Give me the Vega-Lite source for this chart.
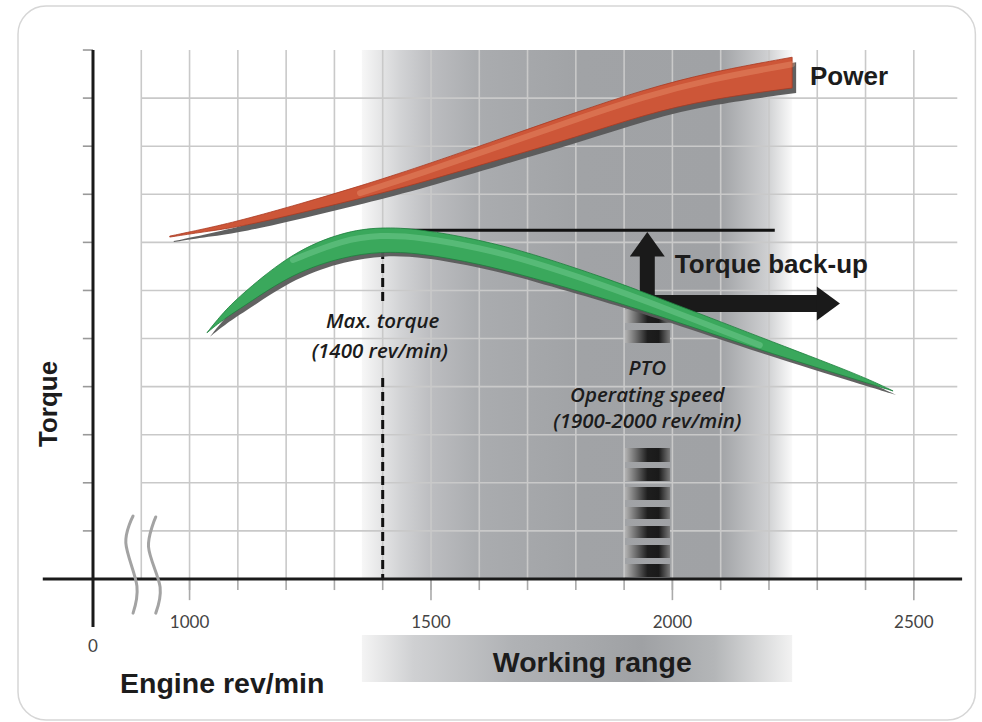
{
  "$schema": "https://vega.github.io/schema/vega-lite/v6.json",
  "width": 982,
  "height": 722,
  "autosize": "none",
  "padding": 0,
  "background": "white",
  "config": {"view": {"stroke": null}},
  "datasets": {
    "one": [{}],
    "power": [
      {"rpm": 959, "top": 7.13, "bot": 7.11},
      {"rpm": 1030, "top": 7.28, "bot": 7.22},
      {"rpm": 1104, "top": 7.45, "bot": 7.32},
      {"rpm": 1229, "top": 7.80, "bot": 7.61},
      {"rpm": 1353, "top": 8.17, "bot": 7.91},
      {"rpm": 1477, "top": 8.57, "bot": 8.23},
      {"rpm": 1643, "top": 9.15, "bot": 8.73},
      {"rpm": 1802, "top": 9.71, "bot": 9.19},
      {"rpm": 1939, "top": 10.17, "bot": 9.65},
      {"rpm": 2078, "top": 10.54, "bot": 9.98},
      {"rpm": 2248, "top": 10.85, "bot": 10.21}
    ],
    "torque": [
      {"rpm": 1036, "top": 5.12, "bot": 5.12},
      {"rpm": 1070, "top": 5.55, "bot": 5.40},
      {"rpm": 1111, "top": 5.95, "bot": 5.66},
      {"rpm": 1214, "top": 6.80, "bot": 6.36},
      {"rpm": 1318, "top": 7.22, "bot": 6.70},
      {"rpm": 1395, "top": 7.32, "bot": 6.81},
      {"rpm": 1477, "top": 7.28, "bot": 6.78},
      {"rpm": 1602, "top": 7.05, "bot": 6.55},
      {"rpm": 1705, "top": 6.78, "bot": 6.28},
      {"rpm": 1850, "top": 6.30, "bot": 5.86},
      {"rpm": 1974, "top": 5.84, "bot": 5.47},
      {"rpm": 2181, "top": 5.03, "bot": 4.76},
      {"rpm": 2389, "top": 4.24, "bot": 4.12},
      {"rpm": 2457, "top": 3.91, "bot": 3.91}
    ],
    "vgrid": [
      {"rpm": 900}, {"rpm": 1000}, {"rpm": 1100}, {"rpm": 1200}, {"rpm": 1300}, {"rpm": 1400},
      {"rpm": 1500}, {"rpm": 1600}, {"rpm": 1700}, {"rpm": 1800}, {"rpm": 1900}, {"rpm": 2000},
      {"rpm": 2100}, {"rpm": 2200}, {"rpm": 2300}, {"rpm": 2400}, {"rpm": 2500}
    ],
    "xticks": [
      {"rpm": 1000}, {"rpm": 1100}, {"rpm": 1200}, {"rpm": 1300}, {"rpm": 1400},
      {"rpm": 1500}, {"rpm": 1600}, {"rpm": 1700}, {"rpm": 1800}, {"rpm": 1900}, {"rpm": 2000},
      {"rpm": 2100}, {"rpm": 2200}, {"rpm": 2300}, {"rpm": 2400}, {"rpm": 2500}
    ],
    "majors": [{"rpm": 1000, "label": "1000"}, {"rpm": 1500, "label": "1500"}, {"rpm": 2000, "label": "2000"}, {"rpm": 2500, "label": "2500"}],
    "hgrid": [{"v": 1}, {"v": 2}, {"v": 3}, {"v": 4}, {"v": 5}, {"v": 6}, {"v": 7}, {"v": 8}, {"v": 9}, {"v": 10}],
    "yticks": [{"v": 1}, {"v": 2}, {"v": 3}, {"v": 4}, {"v": 5}, {"v": 6}, {"v": 7}, {"v": 8}, {"v": 9}, {"v": 10}, {"v": 11}],
    "dash": [{"from": 6.84, "to": 5.70}, {"from": 4.18, "to": 0}],
    "stripes": [
      {"hi": 5.594, "lo": 5.323}, {"hi": 5.178, "lo": 4.907},
      {"hi": 2.724, "lo": 2.433}, {"hi": 2.308, "lo": 2.038}, {"hi": 1.913, "lo": 1.643},
      {"hi": 1.497, "lo": 1.248}, {"hi": 1.102, "lo": 0.853}, {"hi": 0.707, "lo": 0.437},
      {"hi": 0.312, "lo": 0.042}
    ],
    "breaks": [
      {"g": 1, "i": 1, "rpm": 883, "v": 1.31}, {"g": 1, "i": 2, "rpm": 868, "v": 0.75},
      {"g": 1, "i": 3, "rpm": 891, "v": -0.15}, {"g": 1, "i": 4, "rpm": 883, "v": -0.71},
      {"g": 2, "i": 1, "rpm": 930, "v": 1.29}, {"g": 2, "i": 2, "rpm": 915, "v": 0.67},
      {"g": 2, "i": 3, "rpm": 939, "v": -0.17}, {"g": 2, "i": 4, "rpm": 930, "v": -0.71}
    ],
    "boldLeft": [
      {"rpm": 2285, "v": 10.27, "t": "Power"},
      {"rpm": 2005, "v": 6.37, "t": "Torque back-up"}
    ],
    "boldAxis": [
      {"rpm": 856, "v": -2.37, "t": "Engine rev/min"}
    ],
    "boldCenter": [{"rpm": 1834, "v": -1.93, "t": "Working range"}],
    "yTitle": [{"rpm": 725, "v": 3.64, "t": "Torque"}],
    "italic": [
      {"rpm": 1400, "v": 5.21, "t": "Max. torque"},
      {"rpm": 1394, "v": 4.59, "t": "(1400 rev/min)"},
      {"rpm": 1948, "v": 4.25, "t": "PTO"},
      {"rpm": 1948, "v": 3.69, "t": "Operating speed"},
      {"rpm": 1948, "v": 3.14, "t": "(1900-2000 rev/min)"}
    ],
    "zero": [{"rpm": 800, "v": -1.52, "t": "0"}]
  },
  "layer": [
    {
      "data": {"name": "one"},
      "mark": {"type": "rect", "fill": "white", "stroke": "#d6d6d6", "strokeWidth": 1.5, "cornerRadius": 28},
      "encoding": {
        "x": {"datum": 644.7, "type": "quantitative", "scale": {"domain": [607.4, 2641.2], "nice": false, "zero": false}, "axis": null},
        "x2": {"datum": 2627.5},
        "y": {"datum": 11.915, "type": "quantitative", "scale": {"domain": [-2.974, 12.04], "nice": false, "zero": false}, "axis": null},
        "y2": {"datum": -2.93}
      }
    },
    {
      "data": {"name": "one"},
      "mark": {"type": "rect", "color": {"gradient": "linear", "x1": 0, "y1": 0, "x2": 1, "y2": 0,
        "stops": [
          {"offset": 0, "color": "#f7f7f7"},
          {"offset": 0.09, "color": "#d2d3d5"},
          {"offset": 0.16, "color": "#bcbdc0"},
          {"offset": 0.27, "color": "#aaacaf"},
          {"offset": 0.5, "color": "#a1a3a6"},
          {"offset": 0.83, "color": "#a0a2a5"},
          {"offset": 0.94, "color": "#cdced0"},
          {"offset": 1, "color": "#fafafa"}
        ]}},
      "encoding": {
        "x": {"datum": 1357, "type": "quantitative", "scale": {"domain": [607.4, 2641.2], "nice": false, "zero": false}, "axis": null},
        "x2": {"datum": 2248},
        "y": {"datum": 11, "type": "quantitative", "scale": {"domain": [-2.974, 12.04], "nice": false, "zero": false}, "axis": null},
        "y2": {"datum": 0}
      }
    },
    {
      "data": {"name": "one"},
      "mark": {"type": "rect", "color": {"gradient": "linear", "x1": 0, "y1": 0, "x2": 1, "y2": 0,
        "stops": [
          {"offset": 0, "color": "#f4f4f4"},
          {"offset": 0.12, "color": "#cfd0d2"},
          {"offset": 0.35, "color": "#b0b2b5"},
          {"offset": 0.65, "color": "#9fa1a4"},
          {"offset": 0.82, "color": "#b4b6b8"},
          {"offset": 1, "color": "#f2f2f2"}
        ]}},
      "encoding": {
        "x": {"datum": 1357, "type": "quantitative", "scale": {"domain": [607.4, 2641.2], "nice": false, "zero": false}, "axis": null},
        "x2": {"datum": 2248},
        "y": {"datum": -1.164, "type": "quantitative", "scale": {"domain": [-2.974, 12.04], "nice": false, "zero": false}, "axis": null},
        "y2": {"datum": -2.142}
      }
    },
    {
      "data": {"name": "hgrid"},
      "mark": {"type": "rule", "color": "#c9c9c9", "strokeWidth": 1.6},
      "encoding": {
        "x": {"datum": 900, "type": "quantitative", "scale": {"domain": [607.4, 2641.2], "nice": false, "zero": false}, "axis": null},
        "x2": {"datum": 2590},
        "y": {"field": "v", "type": "quantitative", "scale": {"domain": [-2.974, 12.04], "nice": false, "zero": false}, "axis": null}
      }
    },
    {
      "data": {"name": "vgrid"},
      "mark": {"type": "rule", "color": "#c9c9c9", "strokeWidth": 1.6},
      "encoding": {
        "x": {"field": "rpm", "type": "quantitative", "scale": {"domain": [607.4, 2641.2], "nice": false, "zero": false}, "axis": null},
        "y": {"datum": 11, "type": "quantitative", "scale": {"domain": [-2.974, 12.04], "nice": false, "zero": false}, "axis": null},
        "y2": {"datum": 0}
      }
    },
    {
      "data": {"name": "xticks"},
      "mark": {"type": "rule", "color": "#aaaaaa", "strokeWidth": 1.6},
      "encoding": {
        "x": {"field": "rpm", "type": "quantitative", "scale": {"domain": [607.4, 2641.2], "nice": false, "zero": false}, "axis": null},
        "y": {"datum": 0, "type": "quantitative", "scale": {"domain": [-2.974, 12.04], "nice": false, "zero": false}, "axis": null},
        "y2": {"datum": -0.23}
      }
    },
    {
      "data": {"name": "majors"},
      "mark": {"type": "rule", "color": "#aaaaaa", "strokeWidth": 1.6},
      "encoding": {
        "x": {"field": "rpm", "type": "quantitative", "scale": {"domain": [607.4, 2641.2], "nice": false, "zero": false}, "axis": null},
        "y": {"datum": 0, "type": "quantitative", "scale": {"domain": [-2.974, 12.04], "nice": false, "zero": false}, "axis": null},
        "y2": {"datum": -0.44}
      }
    },
    {
      "data": {"name": "yticks"},
      "mark": {"type": "rule", "color": "#999999", "strokeWidth": 1.6},
      "encoding": {
        "x": {"datum": 779, "type": "quantitative", "scale": {"domain": [607.4, 2641.2], "nice": false, "zero": false}, "axis": null},
        "x2": {"datum": 800},
        "y": {"field": "v", "type": "quantitative", "scale": {"domain": [-2.974, 12.04], "nice": false, "zero": false}, "axis": null}
      }
    },
    {
      "data": {"name": "stripes"},
      "mark": {"type": "rect", "color": {"gradient": "linear", "x1": 0, "y1": 0, "x2": 1, "y2": 0,
        "stops": [
          {"offset": 0, "color": "#b4b4b4"},
          {"offset": 0.25, "color": "#6a6a6a"},
          {"offset": 0.5, "color": "#1e1e1e"},
          {"offset": 0.75, "color": "#1a1a1a"},
          {"offset": 1, "color": "#7a7a7a"}
        ]}},
      "encoding": {
        "x": {"datum": 1902, "type": "quantitative", "scale": {"domain": [607.4, 2641.2], "nice": false, "zero": false}, "axis": null},
        "x2": {"datum": 1995},
        "y": {"field": "hi", "type": "quantitative", "scale": {"domain": [-2.974, 12.04], "nice": false, "zero": false}, "axis": null},
        "y2": {"field": "lo"}
      }
    },
    {
      "data": {"name": "dash"},
      "mark": {"type": "rule", "color": "#111111", "strokeWidth": 3, "strokeDash": [9, 5]},
      "encoding": {
        "x": {"datum": 1400, "type": "quantitative", "scale": {"domain": [607.4, 2641.2], "nice": false, "zero": false}, "axis": null},
        "y": {"field": "from", "type": "quantitative", "scale": {"domain": [-2.974, 12.04], "nice": false, "zero": false}, "axis": null},
        "y2": {"field": "to"}
      }
    },
    {
      "data": {"name": "one"},
      "mark": {"type": "rule", "color": "#111111", "strokeWidth": 3},
      "encoding": {
        "x": {"datum": 1420, "type": "quantitative", "scale": {"domain": [607.4, 2641.2], "nice": false, "zero": false}, "axis": null},
        "x2": {"datum": 2212},
        "y": {"datum": 7.25, "type": "quantitative", "scale": {"domain": [-2.974, 12.04], "nice": false, "zero": false}, "axis": null}
      }
    },
    {
      "data": {"name": "one"},
      "mark": {"type": "rule", "color": "#1a1a1a", "strokeWidth": 15},
      "encoding": {
        "x": {"datum": 1948, "type": "quantitative", "scale": {"domain": [607.4, 2641.2], "nice": false, "zero": false}, "axis": null},
        "y": {"datum": 6.72, "type": "quantitative", "scale": {"domain": [-2.974, 12.04], "nice": false, "zero": false}, "axis": null},
        "y2": {"datum": 5.55}
      }
    },
    {
      "data": {"name": "one"},
      "mark": {"type": "rule", "color": "#1a1a1a", "strokeWidth": 17},
      "encoding": {
        "x": {"datum": 1933, "type": "quantitative", "scale": {"domain": [607.4, 2641.2], "nice": false, "zero": false}, "axis": null},
        "x2": {"datum": 2305},
        "y": {"datum": 5.73, "type": "quantitative", "scale": {"domain": [-2.974, 12.04], "nice": false, "zero": false}, "axis": null}
      }
    },
    {
      "data": {"name": "one"},
      "mark": {"type": "point", "filled": true, "color": "#1a1a1a", "opacity": 1, "size": 1225, "shape": "M-1,0.7L1,0.7L0,-0.7Z"},
      "encoding": {
        "x": {"datum": 1948, "type": "quantitative", "scale": {"domain": [607.4, 2641.2], "nice": false, "zero": false}, "axis": null},
        "y": {"datum": 6.96, "type": "quantitative", "scale": {"domain": [-2.974, 12.04], "nice": false, "zero": false}, "axis": null}
      }
    },
    {
      "data": {"name": "one"},
      "mark": {"type": "point", "filled": true, "color": "#1a1a1a", "opacity": 1, "size": 1156, "shape": "M-0.68,-1L0.68,0L-0.68,1Z"},
      "encoding": {
        "x": {"datum": 2323, "type": "quantitative", "scale": {"domain": [607.4, 2641.2], "nice": false, "zero": false}, "axis": null},
        "y": {"datum": 5.73, "type": "quantitative", "scale": {"domain": [-2.974, 12.04], "nice": false, "zero": false}, "axis": null}
      }
    },
    {
      "data": {"name": "power"},
      "mark": {"type": "area", "color": "#575757", "opacity": 0.95, "interpolate": "basis", "xOffset": 4, "x2Offset": 4, "yOffset": 5, "y2Offset": 5},
      "encoding": {
        "x": {"field": "rpm", "type": "quantitative", "scale": {"domain": [607.4, 2641.2], "nice": false, "zero": false}, "axis": null},
        "y": {"field": "top", "type": "quantitative", "scale": {"domain": [-2.974, 12.04], "nice": false, "zero": false}, "axis": null},
        "y2": {"field": "bot"}
      }
    },
    {
      "data": {"name": "power"},
      "mark": {"type": "area", "color": "#cd5638", "opacity": 1, "interpolate": "basis", "stroke": "#a93a22", "strokeWidth": 0.8},
      "encoding": {
        "x": {"field": "rpm", "type": "quantitative", "scale": {"domain": [607.4, 2641.2], "nice": false, "zero": false}, "axis": null},
        "y": {"field": "top", "type": "quantitative", "scale": {"domain": [-2.974, 12.04], "nice": false, "zero": false}, "axis": null},
        "y2": {"field": "bot"}
      }
    },
    {
      "data": {"name": "power"},
      "transform": [{"filter": "datum.rpm >= 1353"}],
      "mark": {"type": "line", "color": "#f0a07c", "opacity": 0.35, "strokeWidth": 6, "strokeCap": "round", "interpolate": "basis", "yOffset": 7},
      "encoding": {
        "x": {"field": "rpm", "type": "quantitative", "scale": {"domain": [607.4, 2641.2], "nice": false, "zero": false}, "axis": null},
        "y": {"field": "top", "type": "quantitative", "scale": {"domain": [-2.974, 12.04], "nice": false, "zero": false}, "axis": null}
      }
    },
    {
      "data": {"name": "torque"},
      "mark": {"type": "area", "color": "#5a5a5a", "opacity": 0.95, "interpolate": "basis", "xOffset": 3, "x2Offset": 3, "yOffset": 4, "y2Offset": 4},
      "encoding": {
        "x": {"field": "rpm", "type": "quantitative", "scale": {"domain": [607.4, 2641.2], "nice": false, "zero": false}, "axis": null},
        "y": {"field": "top", "type": "quantitative", "scale": {"domain": [-2.974, 12.04], "nice": false, "zero": false}, "axis": null},
        "y2": {"field": "bot"}
      }
    },
    {
      "data": {"name": "torque"},
      "mark": {"type": "area", "color": "#3aa85c", "opacity": 1, "interpolate": "basis", "stroke": "#1e7f3e", "strokeWidth": 0.8},
      "encoding": {
        "x": {"field": "rpm", "type": "quantitative", "scale": {"domain": [607.4, 2641.2], "nice": false, "zero": false}, "axis": null},
        "y": {"field": "top", "type": "quantitative", "scale": {"domain": [-2.974, 12.04], "nice": false, "zero": false}, "axis": null},
        "y2": {"field": "bot"}
      }
    },
    {
      "data": {"name": "torque"},
      "transform": [{"filter": "datum.rpm >= 1214 && datum.rpm <= 2181"}],
      "mark": {"type": "line", "color": "#8fdca8", "opacity": 0.35, "strokeWidth": 6, "strokeCap": "round", "interpolate": "basis", "yOffset": 8},
      "encoding": {
        "x": {"field": "rpm", "type": "quantitative", "scale": {"domain": [607.4, 2641.2], "nice": false, "zero": false}, "axis": null},
        "y": {"field": "top", "type": "quantitative", "scale": {"domain": [-2.974, 12.04], "nice": false, "zero": false}, "axis": null}
      }
    },
    {
      "data": {"name": "one"},
      "mark": {"type": "rule", "color": "#1a1a1a", "strokeWidth": 3},
      "encoding": {
        "x": {"datum": 696, "type": "quantitative", "scale": {"domain": [607.4, 2641.2], "nice": false, "zero": false}, "axis": null},
        "x2": {"datum": 2600},
        "y": {"datum": 0, "type": "quantitative", "scale": {"domain": [-2.974, 12.04], "nice": false, "zero": false}, "axis": null}
      }
    },
    {
      "data": {"name": "one"},
      "mark": {"type": "rule", "color": "#1a1a1a", "strokeWidth": 3},
      "encoding": {
        "x": {"datum": 800, "type": "quantitative", "scale": {"domain": [607.4, 2641.2], "nice": false, "zero": false}, "axis": null},
        "y": {"datum": 11, "type": "quantitative", "scale": {"domain": [-2.974, 12.04], "nice": false, "zero": false}, "axis": null},
        "y2": {"datum": -1.0}
      }
    },
    {
      "data": {"name": "breaks"},
      "mark": {"type": "line", "color": "#a3a3a3", "strokeWidth": 3, "interpolate": "cardinal", "strokeCap": "round"},
      "encoding": {
        "x": {"field": "rpm", "type": "quantitative", "scale": {"domain": [607.4, 2641.2], "nice": false, "zero": false}, "axis": null},
        "y": {"field": "v", "type": "quantitative", "scale": {"domain": [-2.974, 12.04], "nice": false, "zero": false}, "axis": null},
        "detail": {"field": "g", "type": "nominal"},
        "order": {"field": "i", "type": "quantitative"}
      }
    },
    {
      "data": {"name": "boldLeft"},
      "mark": {"type": "text", "align": "left", "baseline": "alphabetic", "font": "Liberation Sans", "fontWeight": "bold", "fontSize": 26, "color": "#1c1c1c"},
      "encoding": {
        "x": {"field": "rpm", "type": "quantitative", "scale": {"domain": [607.4, 2641.2], "nice": false, "zero": false}, "axis": null},
        "y": {"field": "v", "type": "quantitative", "scale": {"domain": [-2.974, 12.04], "nice": false, "zero": false}, "axis": null},
        "text": {"field": "t"}
      }
    },
    {
      "data": {"name": "boldAxis"},
      "mark": {"type": "text", "align": "left", "baseline": "alphabetic", "font": "Liberation Sans", "fontWeight": "bold", "fontSize": 28.5, "color": "#1c1c1c"},
      "encoding": {
        "x": {"field": "rpm", "type": "quantitative", "scale": {"domain": [607.4, 2641.2], "nice": false, "zero": false}, "axis": null},
        "y": {"field": "v", "type": "quantitative", "scale": {"domain": [-2.974, 12.04], "nice": false, "zero": false}, "axis": null},
        "text": {"field": "t"}
      }
    },
    {
      "data": {"name": "boldCenter"},
      "mark": {"type": "text", "align": "center", "baseline": "alphabetic", "font": "Liberation Sans", "fontWeight": "bold", "fontSize": 28.5, "color": "#1c1c1c"},
      "encoding": {
        "x": {"field": "rpm", "type": "quantitative", "scale": {"domain": [607.4, 2641.2], "nice": false, "zero": false}, "axis": null},
        "y": {"field": "v", "type": "quantitative", "scale": {"domain": [-2.974, 12.04], "nice": false, "zero": false}, "axis": null},
        "text": {"field": "t"}
      }
    },
    {
      "data": {"name": "yTitle"},
      "mark": {"type": "text", "align": "center", "baseline": "alphabetic", "angle": 270, "font": "Liberation Sans", "fontWeight": "bold", "fontSize": 26, "color": "#1c1c1c"},
      "encoding": {
        "x": {"field": "rpm", "type": "quantitative", "scale": {"domain": [607.4, 2641.2], "nice": false, "zero": false}, "axis": null},
        "y": {"field": "v", "type": "quantitative", "scale": {"domain": [-2.974, 12.04], "nice": false, "zero": false}, "axis": null},
        "text": {"field": "t"}
      }
    },
    {
      "data": {"name": "italic"},
      "mark": {"type": "text", "align": "center", "baseline": "alphabetic", "font": "Open Sans", "fontStyle": "italic", "fontWeight": 600, "fontSize": 20.5, "color": "#1c1c1c"},
      "encoding": {
        "x": {"field": "rpm", "type": "quantitative", "scale": {"domain": [607.4, 2641.2], "nice": false, "zero": false}, "axis": null},
        "y": {"field": "v", "type": "quantitative", "scale": {"domain": [-2.974, 12.04], "nice": false, "zero": false}, "axis": null},
        "text": {"field": "t"}
      }
    },
    {
      "data": {"name": "majors"},
      "mark": {"type": "text", "align": "center", "baseline": "alphabetic", "font": "Lato", "fontSize": 17, "color": "#444444"},
      "encoding": {
        "x": {"field": "rpm", "type": "quantitative", "scale": {"domain": [607.4, 2641.2], "nice": false, "zero": false}, "axis": null},
        "y": {"datum": -1.02, "type": "quantitative", "scale": {"domain": [-2.974, 12.04], "nice": false, "zero": false}, "axis": null},
        "text": {"field": "label"}
      }
    },
    {
      "data": {"name": "zero"},
      "mark": {"type": "text", "align": "center", "baseline": "alphabetic", "font": "Lato", "fontSize": 17, "color": "#444444"},
      "encoding": {
        "x": {"field": "rpm", "type": "quantitative", "scale": {"domain": [607.4, 2641.2], "nice": false, "zero": false}, "axis": null},
        "y": {"field": "v", "type": "quantitative", "scale": {"domain": [-2.974, 12.04], "nice": false, "zero": false}, "axis": null},
        "text": {"field": "t"}
      }
    }
  ]
}
